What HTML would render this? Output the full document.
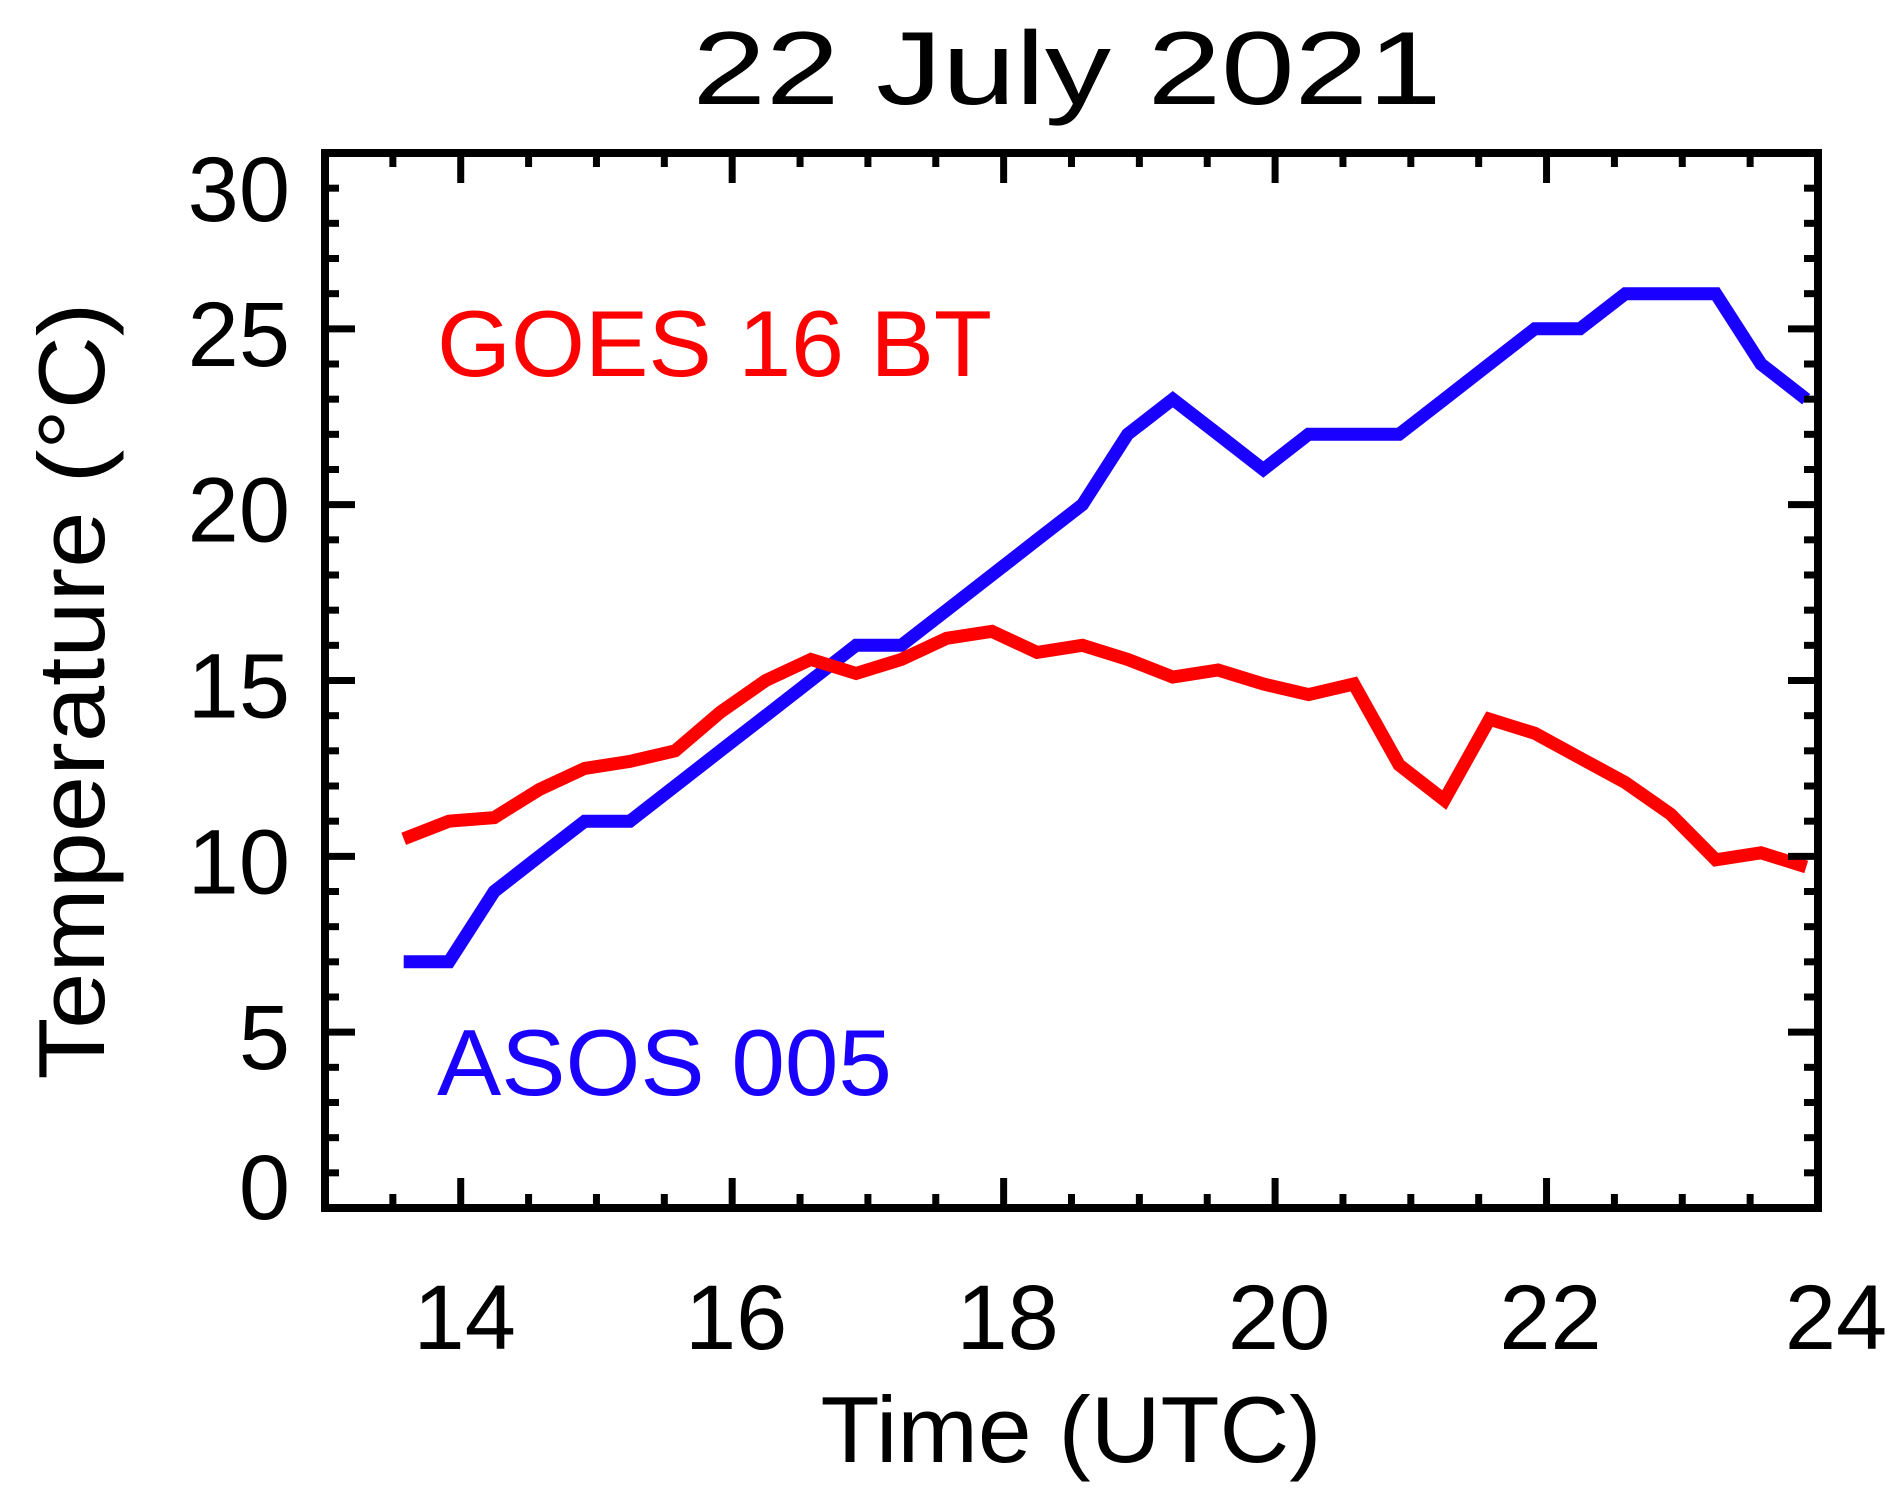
<!DOCTYPE html>
<html><head><meta charset="utf-8"><style>
html,body{margin:0;padding:0;background:#fff;}
svg{display:block;}
text{font-family:"Liberation Sans",sans-serif;fill:#000;}
</style></head><body>
<svg id="chart" width="1892" height="1502" viewBox="0 0 1892 1502" xmlns="http://www.w3.org/2000/svg">
<text x="1067" y="104" font-size="104" text-anchor="middle" textLength="749" lengthAdjust="spacingAndGlyphs">22 July 2021</text>
<text transform="translate(104,691) rotate(-90)" font-size="94" text-anchor="middle" textLength="777" lengthAdjust="spacingAndGlyphs">Temperature (°C)</text>
<text x="1071" y="1462" font-size="94" text-anchor="middle" textLength="501" lengthAdjust="spacingAndGlyphs">Time (UTC)</text>
<text x="437" y="376" font-size="94" fill="#ff0000" style="fill:#ff0000" textLength="555" lengthAdjust="spacingAndGlyphs">GOES 16 BT</text>
<text x="437" y="1095" font-size="94" fill="#1a00ff" style="fill:#1a00ff" textLength="455" lengthAdjust="spacingAndGlyphs">ASOS 005</text>
<g id="plot"></g>
</svg>
<script>
const times = [];
const startHour = 13.58;
for (let k = 0; k < 32; k++) times.push(startHour + k / 3);
const asosValues = [7,7,9,10,11,11,12,13,14,15,16,16,17,18,19,20,22,23,22,21,22,22,22,23,24,25,25,26,26,26,24,23];
const goesValues = [10.5,11.0,11.1,11.9,12.5,12.7,13.0,14.1,15.0,15.6,15.2,15.6,16.2,16.4,15.8,16.0,15.6,15.1,15.3,14.9,14.6,14.9,12.6,11.6,13.9,13.5,12.8,12.1,11.2,9.9,10.1,9.7];
const xTickLabels = [14,16,18,20,22,24];
const yTickLabels = [0,5,10,15,20,25,30];

const X0=325, X1=1818, Y0=1208, Y1=153;
const xMin=13, xMax=24, yMin=0, yMax=30;
function xs(h){return X0+(h-xMin)/(xMax-xMin)*(X1-X0);}
function ys(v){return Y0-(v-yMin)/(yMax-yMin)*(Y0-Y1);}
const NS="http://www.w3.org/2000/svg";
const g=document.getElementById('plot');
function mk(tag,attrs){const e=document.createElementNS(NS,tag);for(const k in attrs)e.setAttribute(k,attrs[k]);g.appendChild(e);return e;}

// series
function series(vals,color,name){
  const d=vals.map((v,i)=>(i?'L':'M')+xs(times[i]).toFixed(1)+','+ys(v).toFixed(1)).join(' ');
  const p=mk('path',{d:d,fill:'none',stroke:color,'stroke-width':13,'stroke-linejoin':'miter','stroke-linecap':'butt'});
  
  
}
series(asosValues,'#1a00ff','asos-line');
series(goesValues,'#ff0000','goes-line');

// axes box
const box=mk('rect',{x:X0,y:Y1,width:X1-X0,height:Y0-Y1,fill:'none',stroke:'#000','stroke-width':8});



// x ticks
for(let h=13.5;h<24;h+=0.5){
  const major=Math.abs(h-Math.round(h))<1e-6 && Math.round(h)%2===0;
  const L=major?30:14;
  const t1=mk('line',{x1:xs(h),x2:xs(h),y1:Y0,y2:Y0-L,stroke:'#000','stroke-width':7});
  
  
  const t2=mk('line',{x1:xs(h),x2:xs(h),y1:Y1,y2:Y1+L,stroke:'#000','stroke-width':7});
  
  
}
// y ticks
for(let v=1;v<30;v++){
  const L=(v%5===0)?30:14;
  const t1=mk('line',{x1:X0,x2:X0+L,y1:ys(v),y2:ys(v),stroke:'#000','stroke-width':7});
  
  
  const t2=mk('line',{x1:X1,x2:X1-L,y1:ys(v),y2:ys(v),stroke:'#000','stroke-width':7});
  
  
}
// x labels
xTickLabels.forEach(h=>{
  const t=mk('text',{x:xs(h)+(h===24?18:4),y:1349,'font-size':92,'text-anchor':'middle'});
  t.textContent=String(h);
  
  
});
// y labels
yTickLabels.forEach(v=>{
  let cy=ys(v)+4;
  if(v===30)cy=ys(v)+35;
  if(v===0)cy=ys(v)-22;
  const t=mk('text',{x:290,y:cy+33,'font-size':92,'text-anchor':'end'});
  t.textContent=String(v);
  
  
});
</script>
</body></html>
